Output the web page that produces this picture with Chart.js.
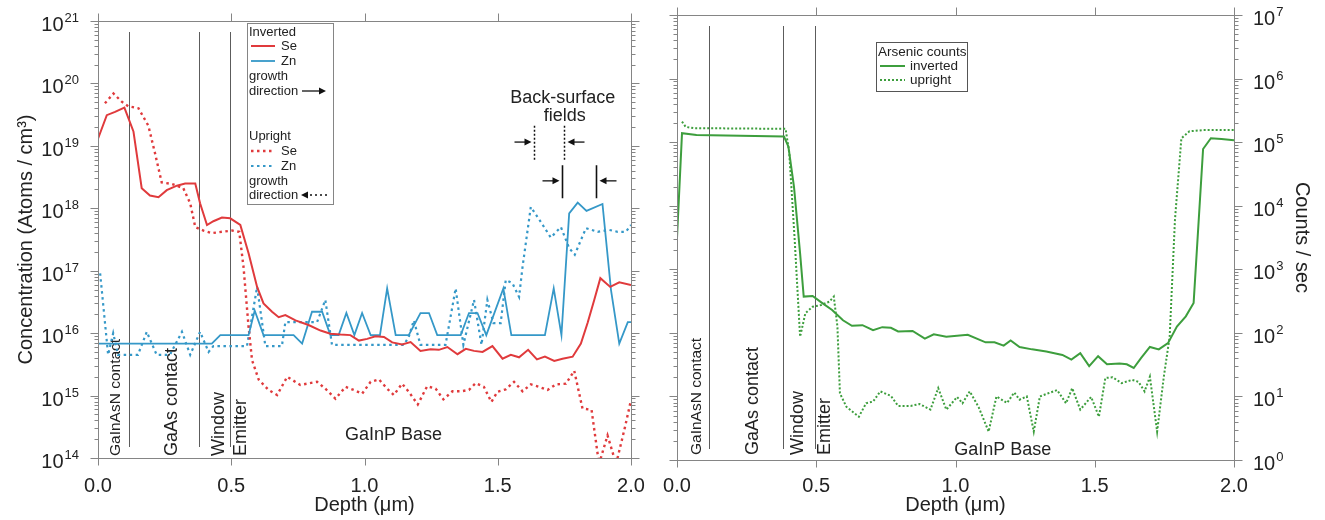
<!DOCTYPE html>
<html>
<head>
<meta charset="utf-8">
<title>SIMS depth profiles</title>
<script src="https://cdn.jsdelivr.net/npm/chart.js@4.4.1/dist/chart.umd.min.js"></script>
<style>
  html, body { margin: 0; padding: 0; background: #fff; }
  #wrap { position: relative; width: 1325px; height: 520px; }
  canvas { position: absolute; top: 0; }
  #dopants { left: 0; }
  #arsenic { left: 650px; }
</style>
</head>
<body>
<div id="wrap">
  <canvas id="dopants" width="650" height="520"></canvas>
  <canvas id="arsenic" width="675" height="520"></canvas>
</div>
<script>
// Se / Zn concentration (atoms/cm3) vs depth (um), inverted cell
const seInvDepth = [0.0, 0.033, 0.064, 0.099, 0.133, 0.164, 0.195, 0.227, 0.258, 0.296, 0.327, 0.365, 0.383, 0.409, 0.433, 0.465, 0.496, 0.534, 0.565, 0.597, 0.621, 0.653, 0.678, 0.703, 0.741, 0.79, 0.835, 0.872, 0.91, 0.947, 0.979, 1.01, 1.041, 1.073, 1.104, 1.141, 1.173, 1.21, 1.248, 1.279, 1.311, 1.349, 1.38, 1.411, 1.443, 1.48, 1.518, 1.549, 1.58, 1.614, 1.647, 1.677, 1.712, 1.743, 1.781, 1.812, 1.837, 1.862, 1.885, 1.922, 1.956, 2.0];
const seInvConc = [1.3e19, 3.1e19, 3.5e19, 4.1e19, 1.7e19, 2.1e18, 1.6e18, 1.5e18, 1.95e18, 2.3e18, 2.5e18, 2.5e18, 1.2e18, 5.4e17, 6.2e17, 7.1e17, 6.9e17, 5.4e17, 1.9e17, 5.5e16, 3.0e16, 2.2e16, 1.8e16, 1.95e16, 1.6e16, 1.35e16, 1.1e16, 9.8e15, 9.5e15, 9.3e15, 7.6e15, 8.1e15, 8.9e15, 8.7e15, 7.1e15, 6.6e15, 7.2e15, 5.2e15, 5.5e15, 5.4e15, 6.0e15, 4.6e15, 5.6e15, 5.2e15, 5.0e15, 6.2e15, 3.9e15, 4.5e15, 4.1e15, 5.4e15, 3.8e15, 4.2e15, 3.6e15, 3.9e15, 4.2e15, 6.8e15, 1.45e16, 3.4e16, 7.6e16, 5.5e16, 6.5e16, 5.9e16];

const znInvDepth = [0.0, 0.427, 0.459, 0.565, 0.588, 0.621, 0.734, 0.766, 0.803, 0.841, 0.872, 0.903, 0.932, 0.962, 0.991, 1.023, 1.058, 1.085, 1.117, 1.166, 1.21, 1.242, 1.273, 1.361, 1.392, 1.424, 1.457, 1.521, 1.551, 1.677, 1.71, 1.739, 1.768, 1.8, 1.833, 1.893, 1.925, 1.956, 1.988, 2.0];
const znInvConc = [6.8e15, 6.8e15, 9.3e15, 9.3e15, 2.3e16, 9.3e15, 9.3e15, 6.8e15, 2.2e16, 2.2e16, 9.3e15, 9.3e15, 2.1e16, 9.3e15, 2.1e16, 9.3e15, 9.3e15, 5.2e16, 9.3e15, 9.3e15, 2.1e16, 2.1e16, 9.3e15, 9.3e15, 2.1e16, 2.1e16, 9.3e15, 5.2e16, 9.3e15, 9.3e15, 5.2e16, 9.3e15, 8.3e17, 1.23e18, 9.1e17, 1.17e18, 4.9e16, 6.8e15, 1.5e16, 1.5e16];

// same profiles, upright cell
const seUpDepth = [0.026, 0.058, 0.089, 0.114, 0.152, 0.189, 0.214, 0.239, 0.277, 0.32, 0.346, 0.365, 0.396, 0.427, 0.465, 0.503, 0.53, 0.546, 0.565, 0.578, 0.603, 0.64, 0.672, 0.71, 0.759, 0.822, 0.853, 0.891, 0.929, 0.96, 0.991, 1.023, 1.054, 1.085, 1.11, 1.141, 1.166, 1.2, 1.235, 1.267, 1.296, 1.33, 1.361, 1.392, 1.417, 1.448, 1.476, 1.499, 1.53, 1.561, 1.593, 1.624, 1.655, 1.687, 1.718, 1.756, 1.787, 1.818, 1.852, 1.88, 1.912, 1.944, 1.978, 2.0];
const seUpConc = [4.8e19, 6.9e19, 5.1e19, 4.3e19, 4.0e19, 2.1e19, 7.6e18, 2.6e18, 2.45e18, 2.1e18, 1.2e18, 5.0e17, 4.4e17, 4.0e17, 4.2e17, 4.4e17, 4.2e17, 1.15e17, 1.26e16, 3.7e15, 1.8e15, 1.23e15, 1.02e15, 2.0e15, 1.48e15, 1.66e15, 1.29e15, 8.9e14, 1.38e15, 1.23e15, 1.07e15, 1.66e15, 1.82e15, 1.29e15, 1.02e15, 1.55e15, 1.15e15, 7.2e14, 1.41e15, 1.29e15, 8.7e14, 1.17e15, 1.17e15, 1.23e15, 1.58e15, 1.38e15, 7.9e14, 1.15e15, 1.26e15, 1.66e15, 1.17e15, 1.51e15, 1.38e15, 1.23e15, 1.51e15, 1.55e15, 2.5e15, 6.2e14, 5.9e14, 8e13, 2.3e14, 8e13, 3.2e14, 8.5e14];

const znUpDepth = [0.008, 0.038, 0.057, 0.075, 0.15, 0.183, 0.22, 0.27, 0.315, 0.346, 0.383, 0.415, 0.433, 0.559, 0.597, 0.628, 0.69, 0.703, 0.822, 0.853, 0.878, 1.148, 1.166, 1.185, 1.21, 1.304, 1.342, 1.371, 1.411, 1.439, 1.461, 1.484, 1.511, 1.53, 1.555, 1.58, 1.593, 1.624, 1.662, 1.699, 1.737, 1.768, 1.789, 1.812, 1.831, 1.875, 1.918, 1.95, 1.981, 2.0];
const znUpConc = [9.1e16, 4.5e15, 1.0e16, 4.5e15, 4.5e15, 1.05e16, 4.5e15, 4.5e15, 1.05e16, 4.5e15, 1.05e16, 5.0e15, 6.2e15, 6.2e15, 5.5e16, 6.2e15, 6.2e15, 1.5e16, 1.5e16, 3.4e16, 6.5e15, 6.5e15, 8.7e15, 1.6e16, 6.5e15, 6.5e15, 5.2e16, 6.5e15, 3.4e16, 6.5e15, 3.4e16, 1.45e16, 1.45e16, 7.1e16, 6.3e16, 3.8e16, 1.15e17, 1.05e18, 6.0e17, 3.4e17, 5.0e17, 2.3e17, 1.8e17, 3.1e17, 4.8e17, 4.2e17, 4.5e17, 4.2e17, 4.2e17, 5.4e17];

// arsenic counts/sec vs depth
const asInvDepth = [0.0, 0.018, 0.07, 0.384, 0.40, 0.42, 0.442, 0.455, 0.487, 0.518, 0.557, 0.596, 0.628, 0.666, 0.704, 0.737, 0.768, 0.794, 0.846, 0.89, 0.922, 0.967, 1.044, 1.108, 1.14, 1.173, 1.198, 1.23, 1.275, 1.326, 1.384, 1.416, 1.448, 1.48, 1.512, 1.544, 1.589, 1.615, 1.64, 1.666, 1.698, 1.73, 1.763, 1.795, 1.827, 1.855, 1.889, 1.917, 1.955, 2.0];
const asInvCounts = [3.1e3, 1.38e5, 1.29e5, 1.23e5, 8.5e4, 2.0e4, 1.78e3, 372, 380, 302, 229, 158, 129, 132, 110, 123, 120, 105, 107, 81, 95, 87, 93, 71, 71, 63, 76, 60, 55, 51, 45, 38, 48, 30, 43, 32, 33, 32, 28, 40, 60, 55, 69, 126, 182, 295, 7.8e4, 1.15e5, 1.12e5, 1.07e5];

const asUpDepth = [0.018, 0.031, 0.06, 0.39, 0.403, 0.422, 0.442, 0.461, 0.487, 0.518, 0.547, 0.563, 0.576, 0.585, 0.608, 0.653, 0.679, 0.704, 0.73, 0.768, 0.794, 0.839, 0.871, 0.91, 0.938, 0.967, 1.006, 1.025, 1.051, 1.083, 1.119, 1.147, 1.185, 1.211, 1.23, 1.256, 1.281, 1.303, 1.333, 1.365, 1.397, 1.419, 1.448, 1.487, 1.515, 1.538, 1.564, 1.596, 1.634, 1.657, 1.679, 1.698, 1.724, 1.748, 1.769, 1.788, 1.811, 1.84, 1.891, 2.0];
const asUpCounts = [2.1e5, 1.74e5, 1.66e5, 1.62e5, 6.8e4, 3.2e3, 87, 204, 257, 275, 309, 372, 126, 11.2, 6.9, 4.8, 7.8, 8.3, 12, 10.2, 7.1, 7.1, 7.6, 6.2, 13.5, 6.2, 9.8, 7.8, 12, 6.8, 2.8, 10, 7.9, 11.5, 8.9, 10, 2.8, 10, 11.2, 12.6, 7.8, 13.5, 6.2, 9.8, 4.8, 19.5, 20, 16.2, 18.2, 17, 12, 20.4, 2.8, 20.4, 87, 6.0e3, 1.15e5, 1.48e5, 1.55e5, 1.55e5];

// layer boundaries and axis ticks
const layerEdges = [0.115, 0.38, 0.495];
const depthTicks = [0, 0.5, 1.0, 1.5, 2.0];
const concExp = [14, 21];
const countExp = [0, 7];

// back-surface field markers: [depth, depth], vertical extent, arrow height
const bsfUpright = { at: [1.635, 1.748], from: 2.1e19, to: 5.9e18, arrowAt: 1.15e19 };
const bsfInverted = { at: [1.74, 1.868], from: 4.9e18, to: 1.45e18, arrowAt: 2.75e18 };

const FONT = "'Liberation Sans', Arial, Helvetica, sans-serif";
const INK = '#222';
const FRAME = '#858585';
const RED = '#e03a3c';
const BLUE = '#3598c8';
const GREEN = '#3d9e3d';

Chart.defaults.font.family = FONT;
Chart.defaults.color = INK;

const pts = (xs, ys) => xs.map((x, i) => ({ x: x, y: ys[i] }));

function txt(ctx, s, x, y, size, align, base) {
  ctx.font = size + 'px ' + FONT;
  ctx.textAlign = align || 'left';
  ctx.textBaseline = base || 'middle';
  ctx.fillStyle = INK;
  ctx.fillText(s, x, y);
}

// text reading bottom to top
function vtxt(ctx, s, x, y, size) {
  ctx.save();
  ctx.translate(x, y);
  ctx.rotate(-Math.PI / 2);
  txt(ctx, s, 0, 0, size, 'left', 'middle');
  ctx.restore();
}

function sample(ctx, ds, x1, x2, y) {
  ctx.save();
  ctx.strokeStyle = ds.borderColor;
  ctx.lineWidth = ds.borderWidth;
  ctx.setLineDash(ds.borderDash || []);
  ctx.beginPath(); ctx.moveTo(x1, y); ctx.lineTo(x2, y); ctx.stroke();
  ctx.restore();
}

function arrow(ctx, x1, x2, y, dash) {
  const d = Math.sign(x2 - x1);
  ctx.save();
  ctx.strokeStyle = '#111'; ctx.fillStyle = '#111'; ctx.lineWidth = 1.3;
  ctx.setLineDash(dash || []);
  ctx.beginPath(); ctx.moveTo(x1, y); ctx.lineTo(x2 - d * 4, y); ctx.stroke();
  ctx.setLineDash([]);
  ctx.beginPath(); ctx.moveTo(x2, y); ctx.lineTo(x2 - d * 7, y - 3.5); ctx.lineTo(x2 - d * 7, y + 3.5);
  ctx.closePath(); ctx.fill();
  ctx.restore();
}

function logTicks(range) {
  const out = [];
  for (let e = range[0]; e < range[1]; e++) {
    for (let m = 1; m < 10; m++) out.push({ v: m * Math.pow(10, e), major: m === 1, exp: e });
  }
  out.push({ v: Math.pow(10, range[1]), major: true, exp: range[1] });
  return out;
}

// frame, ticks, layer lines and layer names shared by both panels
const framePlugin = {
  id: 'frame',
  beforeDatasetsDraw(chart, args, opts) {
    const { ctx, chartArea: a, scales: { x } } = chart;
    ctx.save();
    ctx.strokeStyle = '#5c5c5c';
    ctx.lineWidth = 1;
    layerEdges.forEach(d => {
      const px = Math.round(x.getPixelForValue(d)) + 0.5;
      ctx.beginPath(); ctx.moveTo(px, a.top + 11); ctx.lineTo(px, a.bottom - 11); ctx.stroke();
    });
    opts.layers.forEach(l => vtxt(ctx, l.text, x.getPixelForValue(l.at), a.bottom - opts.layerDrop, l.size));
    txt(ctx, 'GaInP Base', x.getPixelForValue(opts.baseAt), a.bottom - opts.baseDrop, 18, 'center', 'alphabetic');
    ctx.restore();
  },
  afterDraw(chart, args, opts) {
    const { ctx, chartArea: a, scales: { x, y } } = chart;
    const L = Math.round(a.left) + 0.5, R = Math.round(a.right) + 0.5;
    const T = Math.round(a.top) + 0.5, B = Math.round(a.bottom) + 0.5;
    ctx.save();
    ctx.strokeStyle = FRAME;
    ctx.lineWidth = 1;
    ctx.strokeRect(L, T, R - L, B - T);
    ctx.beginPath();
    depthTicks.forEach(d => {
      const px = Math.round(x.getPixelForValue(d)) + 0.5;
      ctx.moveTo(px, B); ctx.lineTo(px, B + 7);
      ctx.moveTo(px, T); ctx.lineTo(px, T - 8);
    });
    logTicks(opts.exp).forEach(t => {
      const py = Math.round(y.getPixelForValue(t.v)) + 0.5;
      const len = t.major ? 8 : 4;
      ctx.moveTo(L, py); ctx.lineTo(L - len, py);
      ctx.moveTo(R, py); ctx.lineTo(R + len, py);
    });
    ctx.stroke();

    depthTicks.forEach(d => txt(ctx, d.toFixed(1), x.getPixelForValue(d), chart.height - 28, 20, 'center', 'alphabetic'));

    logTicks(opts.exp).filter(t => t.major).forEach(t => {
      const py = y.getPixelForValue(t.v);
      ctx.font = '20px ' + FONT;
      const tenW = ctx.measureText('10').width;
      ctx.font = '13px ' + FONT;
      const eW = ctx.measureText(String(t.exp)).width;
      const x0 = opts.labelSide === 'left' ? a.left - 19 - eW - 1 - tenW : a.right + 19;
      txt(ctx, '10', x0, py + 10, 20, 'left', 'alphabetic');
      txt(ctx, String(t.exp), x0 + tenW + 1, py + 1, 13, 'left', 'alphabetic');
    });
    ctx.restore();
  }
};

// legend box and back-surface field markers for the Se/Zn panel
const dopantLegend = {
  id: 'dopantLegend',
  afterDraw(chart) {
    const { ctx, scales: { x, y } } = chart;
    const ds = chart.data.datasets;
    ctx.save();
    ctx.fillStyle = '#fff';
    ctx.fillRect(247.5, 23.5, 86, 181);
    ctx.strokeStyle = FRAME; ctx.lineWidth = 1;
    ctx.strokeRect(247.5, 23.5, 86, 181);

    txt(ctx, 'Inverted', 249, 32, 13);
    sample(ctx, ds[0], 251, 275, 46); txt(ctx, 'Se', 281, 46, 13);
    sample(ctx, ds[1], 251, 275, 61); txt(ctx, 'Zn', 281, 61, 13);
    txt(ctx, 'growth', 249, 76, 13);
    txt(ctx, 'direction', 249, 91, 13);
    arrow(ctx, 302, 326, 91);

    txt(ctx, 'Upright', 249, 136, 13);
    sample(ctx, ds[2], 251, 275, 151); txt(ctx, 'Se', 281, 151, 13);
    sample(ctx, ds[3], 251, 275, 166); txt(ctx, 'Zn', 281, 166, 13);
    txt(ctx, 'growth', 249, 181, 13);
    txt(ctx, 'direction', 249, 195, 13);
    arrow(ctx, 327, 301, 195, [2, 3]);

    // back-surface fields
    const cx = (x.getPixelForValue(bsfUpright.at[0]) + x.getPixelForValue(bsfInverted.at[1])) / 2;
    txt(ctx, 'Back-surface', cx - 2, 103, 18, 'center', 'alphabetic');
    txt(ctx, 'fields', cx, 121, 18, 'center', 'alphabetic');

    [[bsfUpright, [2, 2]], [bsfInverted, []]].forEach(([m, dash]) => {
      const y1 = y.getPixelForValue(m.from), y2 = y.getPixelForValue(m.to), ya = y.getPixelForValue(m.arrowAt);
      const xa = Math.round(x.getPixelForValue(m.at[0])) + 0.5;
      const xb = Math.round(x.getPixelForValue(m.at[1])) + 0.5;
      ctx.strokeStyle = '#111'; ctx.lineWidth = dash.length ? 1.5 : 1.6;
      ctx.setLineDash(dash);
      ctx.beginPath();
      ctx.moveTo(xa, y1); ctx.lineTo(xa, y2);
      ctx.moveTo(xb, y1); ctx.lineTo(xb, y2);
      ctx.stroke();
      ctx.setLineDash([]);
      arrow(ctx, xa - 20, xa - 3, ya);
      arrow(ctx, xb + 20, xb + 3, ya);
    });
    ctx.restore();
  }
};

const arsenicLegend = {
  id: 'arsenicLegend',
  afterDraw(chart) {
    const { ctx } = chart;
    const ds = chart.data.datasets;
    ctx.save();
    ctx.fillStyle = '#fff';
    ctx.fillRect(226.5, 42.5, 91, 49);
    ctx.strokeStyle = '#555'; ctx.lineWidth = 1;
    ctx.strokeRect(226.5, 42.5, 91, 49);
    txt(ctx, 'Arsenic counts', 228, 52, 13.5);
    sample(ctx, ds[0], 230, 255, 66); txt(ctx, 'inverted', 260, 66, 13.5);
    sample(ctx, ds[1], 230, 255, 80); txt(ctx, 'upright', 260, 80, 13.5);
    ctx.restore();
  }
};

function lineSet(label, data, color, width, dash) {
  return {
    label: label, data: data, borderColor: color, backgroundColor: color,
    borderWidth: width, borderDash: dash || [], pointRadius: 0,
    tension: 0, fill: false, clip: 0
  };
}

function depthScale(height) {
  return {
    type: 'linear', min: 0, max: 2,
    ticks: { display: false },
    grid: { display: false, drawTicks: false },
    border: { display: false },
    title: { display: true, text: 'Depth (\u03bcm)', color: INK, font: { size: 20 }, padding: { top: 0, bottom: 3 } },
    afterFit: s => { s.height = height; }
  };
}

// Se and Zn concentration panel
new Chart(document.getElementById('dopants'), {
  type: 'line',
  data: {
    datasets: [
      lineSet('Se inverted', pts(seInvDepth, seInvConc), RED, 2),
      lineSet('Zn inverted', pts(znInvDepth, znInvConc), BLUE, 1.8),
      lineSet('Se upright', pts(seUpDepth, seUpConc), RED, 2.4, [2.5, 3.5]),
      lineSet('Zn upright', pts(znUpDepth, znUpConc), BLUE, 2.2, [2.5, 3.5])
    ]
  },
  options: {
    responsive: false,
    animation: false,
    layout: { padding: { top: 21, right: 19, bottom: 0, left: 0 } },
    scales: {
      x: depthScale(62),
      y: {
        type: 'logarithmic', min: 1e14, max: 1e21,
        ticks: { display: false },
        grid: { display: false, drawTicks: false },
        border: { display: false },
        title: { display: true, text: 'Concentration (Atoms / cm\u00b3)', color: INK, font: { size: 20 }, padding: { top: 14, bottom: 0 } },
        afterFit: s => { s.width = 98; }
      }
    },
    plugins: {
      legend: { display: false },
      tooltip: { enabled: false },
      frame: {
        exp: concExp, labelSide: 'left', layerDrop: 2, baseAt: 1.109, baseDrop: 18,
        layers: [
          { text: 'GaInAsN contact', at: 0.066, size: 15.5 },
          { text: 'GaAs contact', at: 0.278, size: 18 },
          { text: 'Window', at: 0.453, size: 18 },
          { text: 'Emitter', at: 0.536, size: 18 }
        ]
      }
    }
  },
  plugins: [framePlugin, dopantLegend]
});

// arsenic counts panel
new Chart(document.getElementById('arsenic'), {
  type: 'line',
  data: {
    datasets: [
      lineSet('inverted', pts(asInvDepth, asInvCounts), GREEN, 2),
      lineSet('upright', pts(asUpDepth, asUpCounts), GREEN, 2, [2, 2])
    ]
  },
  options: {
    responsive: false,
    animation: false,
    layout: { padding: { top: 15, right: 0, bottom: 0, left: 27 } },
    scales: {
      x: depthScale(60),
      y: {
        type: 'logarithmic', position: 'right', min: 1, max: 1e7,
        ticks: { display: false },
        grid: { display: false, drawTicks: false },
        border: { display: false },
        title: { display: true, text: 'Counts / sec', color: INK, font: { size: 20 }, padding: { top: 11, bottom: 0 } },
        afterFit: s => { s.width = 91; }
      }
    },
    plugins: {
      legend: { display: false },
      tooltip: { enabled: false },
      frame: {
        exp: countExp, labelSide: 'right', layerDrop: 5, baseAt: 1.17, baseDrop: 5,
        layers: [
          { text: 'GaInAsN contact', at: 0.072, size: 15.5 },
          { text: 'GaAs contact', at: 0.273, size: 18 },
          { text: 'Window', at: 0.434, size: 18 },
          { text: 'Emitter', at: 0.531, size: 18 }
        ]
      }
    }
  },
  plugins: [framePlugin, arsenicLegend]
});
</script>
</body>
</html>
